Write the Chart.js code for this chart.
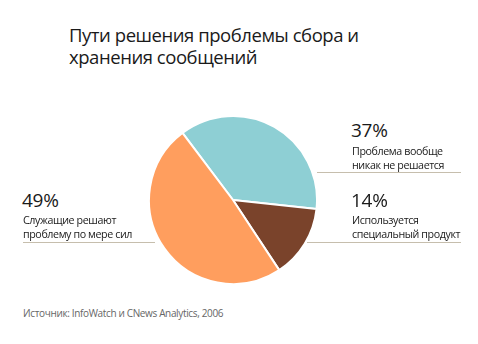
<!DOCTYPE html>
<html>
<head>
<meta charset="utf-8">
<script src="https://cdn.jsdelivr.net/npm/chart.js@4"></script>
<style>
  body { margin: 0; background: #fff; font-family: "Open Sans", "Noto Sans", sans-serif; color: #1a1a1a; }
  #wrap { position: relative; width: 478px; height: 344px; overflow: hidden; }
  #pie { position: absolute; left: 148px; top: 115px; width: 170px; height: 170px; }
  .t { position: absolute; white-space: nowrap; }
  .title { left: 69px; font-size: 18.5px; line-height: 22px; height: 22px; letter-spacing: -0.45px; }
  .pct { font-size: 19px; line-height: 20px; letter-spacing: -0.3px; }
  .lbl { font-size: 10.7px; line-height: 13.5px; letter-spacing: -0.4px; }
  .rule { position: absolute; height: 1px; background: #c6bead; }
  .src { left: 23px; top: 306px; font-size: 10px; color: #666; letter-spacing: -0.35px; }
</style>
</head>
<body>
<div id="wrap">
  <div class="t title" style="top:24px">Пути решения проблемы сбора и</div>
  <div class="t title" style="top:46px">хранения сообщений</div>
  <div id="pie"><canvas id="grafico"></canvas></div>

  <div class="t pct" style="left:351px;top:120px" id="p0"></div>
  <div class="t lbl" style="left:352px;top:145px" id="l0"></div>
  <div class="rule" style="left:317px;top:172px;width:144px"></div>

  <div class="t pct" style="left:351px;top:190px" id="p1"></div>
  <div class="t lbl" style="left:352px;top:214px" id="l1"></div>
  <div class="rule" style="left:307px;top:242px;width:154px"></div>

  <div class="t pct" style="left:22px;top:190px" id="p2"></div>
  <div class="t lbl" style="left:23px;top:214px" id="l2"></div>
  <div class="rule" style="left:23px;top:242px;width:132px"></div>

  <div class="t src">Источник: InfoWatch и CNews Analytics, 2006</div>
</div>
<script>
// Dados do grafico
const categorias = ['Проблема вообще никак не решается', 'Используется специальный продукт', 'Служащие решают проблему по мере сил'];
const linhas = [['Проблема вообще', 'никак не решается'], ['Используется', 'специальный продукт'], ['Служащие решают', 'проблему по мере сил']];
const valores = [37, 14, 49];
const cores = ['#8ecfd4', '#7a432b', '#ff9e5e'];

// Textos das legendas
for (let i = 0; i < valores.length; i++) {
	document.getElementById('p' + i).textContent = valores[i] + '%';
	document.getElementById('l' + i).innerHTML = linhas[i].join('<br>');
}

let ctx = document.getElementById('grafico').getContext('2d');

let chart = new Chart(ctx, {
	type: 'pie',
	data: {
		labels: categorias,
		datasets: [{
			data: valores,
			backgroundColor: cores,
			borderColor: '#ffffff',
			borderWidth: 2
		}]
	},
	options: {
		responsive: true,
		maintainAspectRatio: false,
		animation: false,
		rotation: -37,
		layout: { padding: 0 },
		plugins: {
			legend: { display: false },
			tooltip: { enabled: false }
		}
	}
});
</script>
</body>
</html>
